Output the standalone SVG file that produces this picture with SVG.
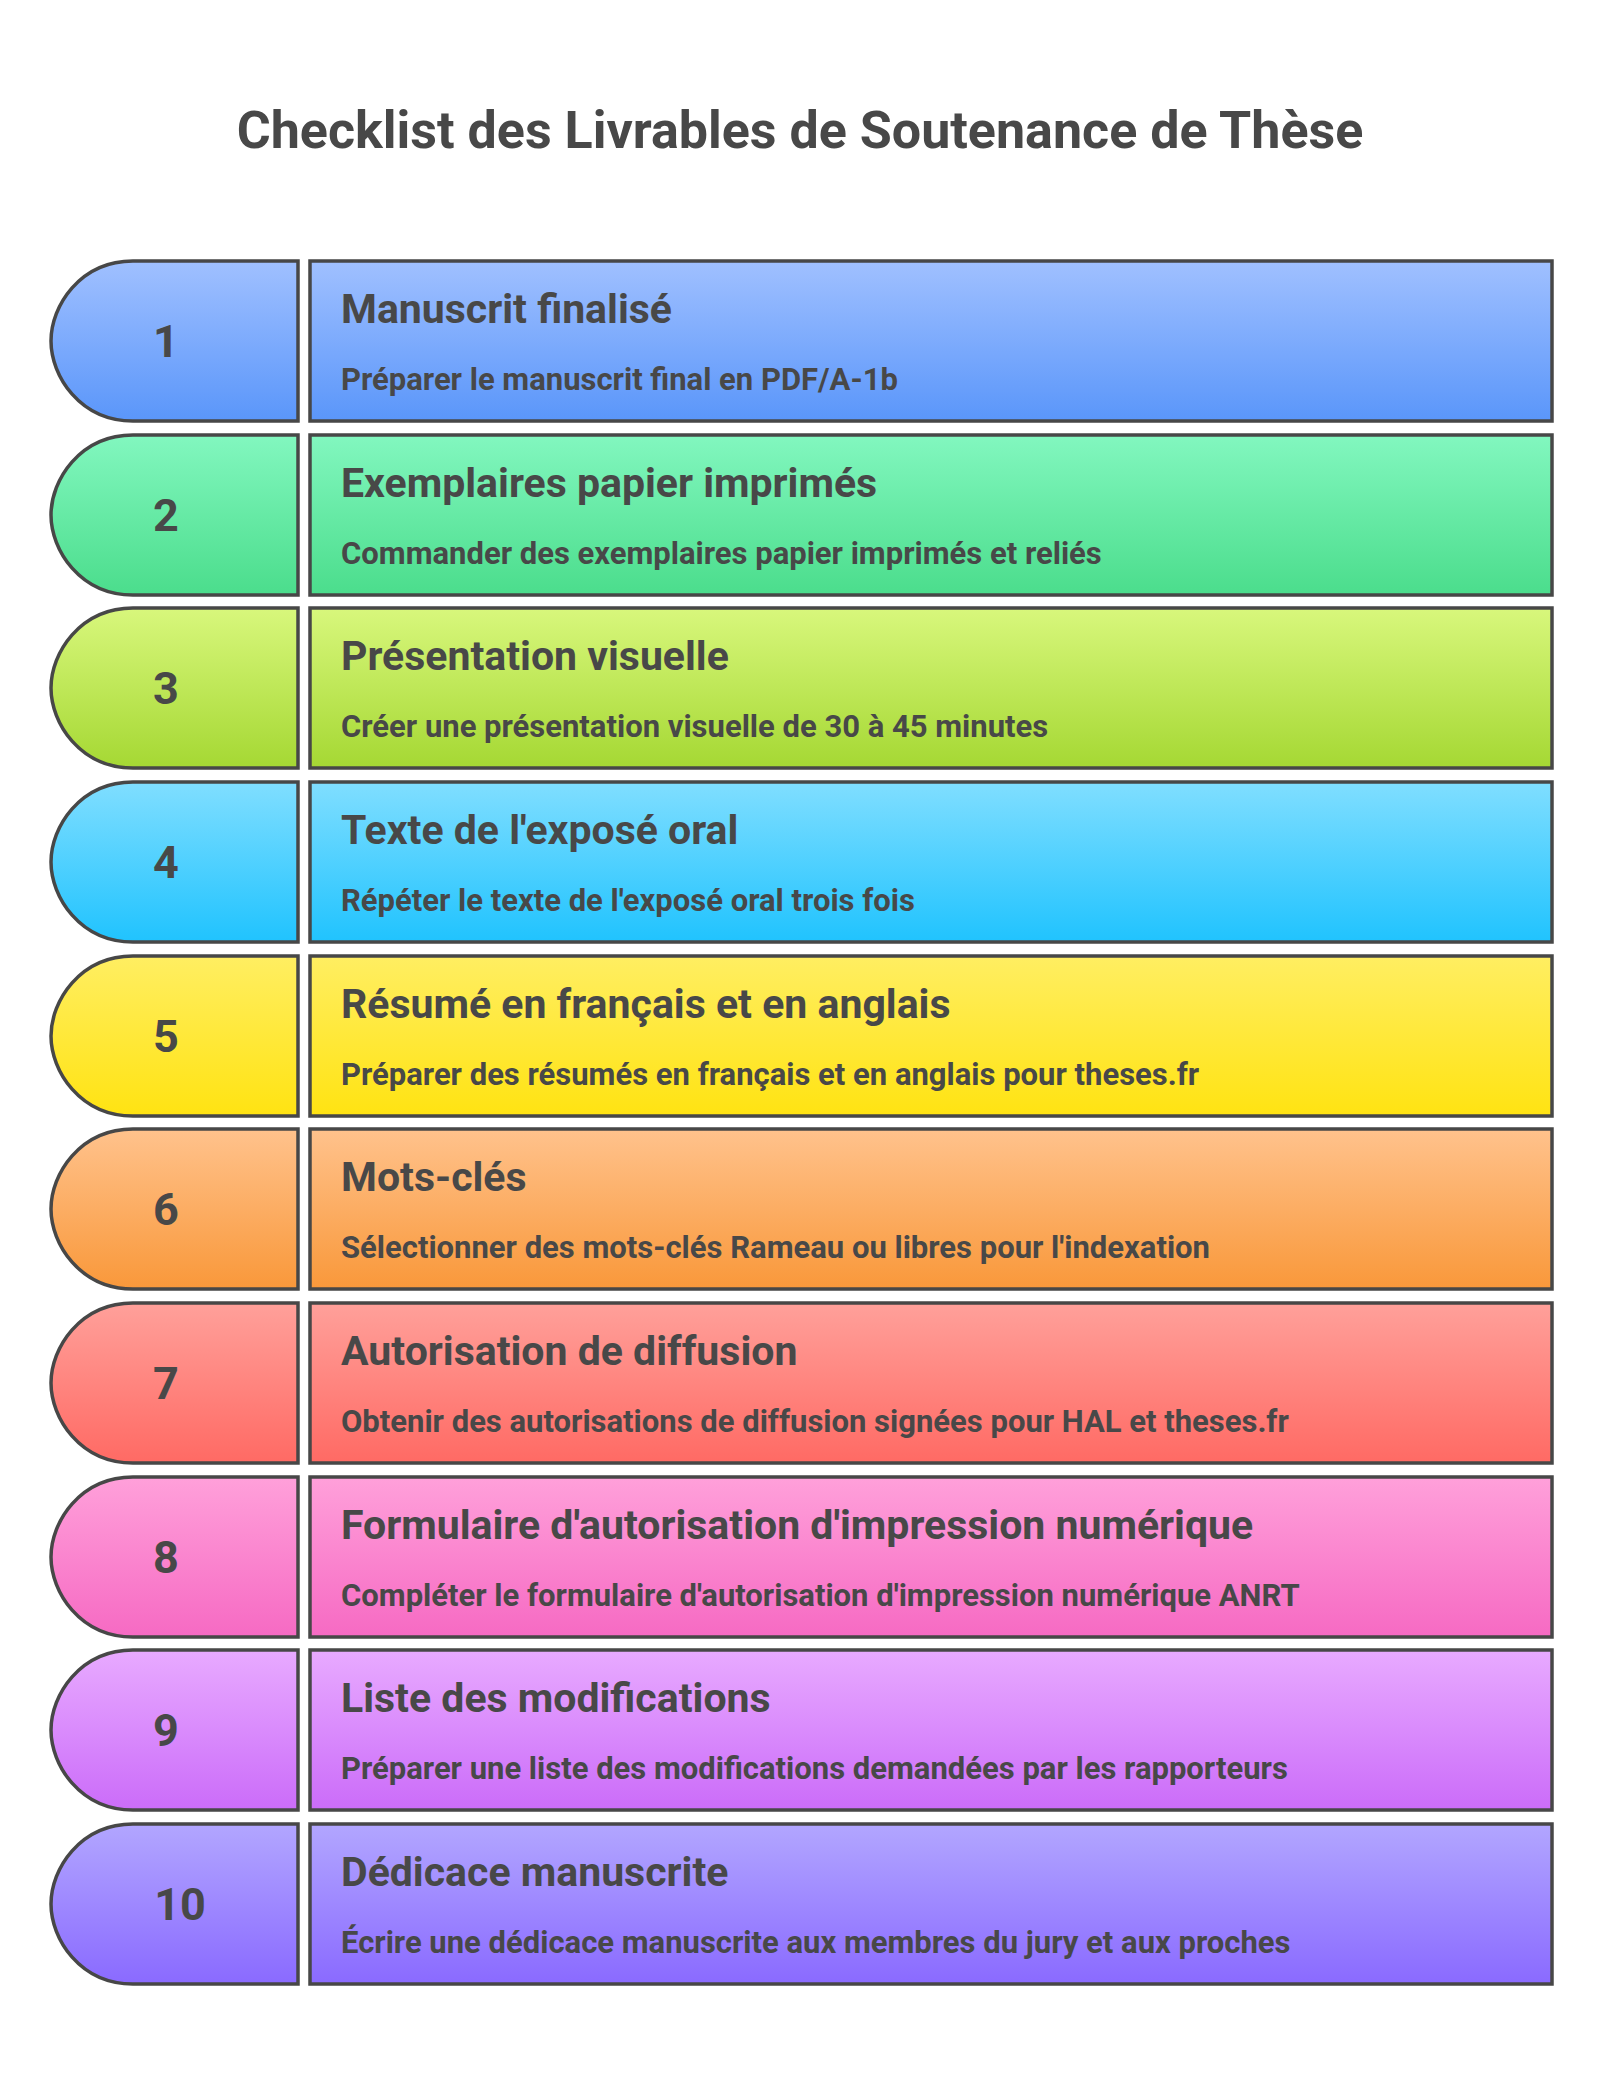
<svg xmlns="http://www.w3.org/2000/svg" width="1600" height="2083" viewBox="0 0 1600 2083">
<defs>
<linearGradient id="g1" x1="0" y1="0" x2="0" y2="1"><stop offset="0" stop-color="#A0C0FF"/><stop offset="1" stop-color="#5A96FA"/></linearGradient>
<linearGradient id="g2" x1="0" y1="0" x2="0" y2="1"><stop offset="0" stop-color="#82F7BF"/><stop offset="1" stop-color="#4BDD8C"/></linearGradient>
<linearGradient id="g3" x1="0" y1="0" x2="0" y2="1"><stop offset="0" stop-color="#D8F77C"/><stop offset="1" stop-color="#A5D833"/></linearGradient>
<linearGradient id="g4" x1="0" y1="0" x2="0" y2="1"><stop offset="0" stop-color="#80DEFF"/><stop offset="1" stop-color="#20C3FE"/></linearGradient>
<linearGradient id="g5" x1="0" y1="0" x2="0" y2="1"><stop offset="0" stop-color="#FFEE62"/><stop offset="1" stop-color="#FFE312"/></linearGradient>
<linearGradient id="g6" x1="0" y1="0" x2="0" y2="1"><stop offset="0" stop-color="#FFC28C"/><stop offset="1" stop-color="#F9983A"/></linearGradient>
<linearGradient id="g7" x1="0" y1="0" x2="0" y2="1"><stop offset="0" stop-color="#FFA09A"/><stop offset="1" stop-color="#FF6A64"/></linearGradient>
<linearGradient id="g8" x1="0" y1="0" x2="0" y2="1"><stop offset="0" stop-color="#FFA0DA"/><stop offset="1" stop-color="#F66AC3"/></linearGradient>
<linearGradient id="g9" x1="0" y1="0" x2="0" y2="1"><stop offset="0" stop-color="#E8AAFF"/><stop offset="1" stop-color="#CB6CF9"/></linearGradient>
<linearGradient id="g10" x1="0" y1="0" x2="0" y2="1"><stop offset="0" stop-color="#B2A6FF"/><stop offset="1" stop-color="#8A6AFF"/></linearGradient>
<path id="tab" d="M298,0 L133,0 C80,0 51,45 51,80 C51,115 80,160 133,160 L298,160 Z"/>
</defs>
<style>
.s{stroke:#474747;stroke-width:3.5}
.t{font-family:Roboto,"Liberation Sans",sans-serif;font-weight:bold;fill:#484848}
.n{font-size:45px;text-anchor:middle}
.h{font-size:41px}
.d{font-size:31px}
</style>
<rect width="1600" height="2083" fill="#fff"/>
<text class="t" x="800" y="148" font-size="52" text-anchor="middle">Checklist des Livrables de Soutenance de Thèse</text>
<g id="n1" transform="translate(0,261)"><use href="#tab" class="s" fill="url(#g1)"/><rect x="310" y="0" width="1242" height="160" class="s" fill="url(#g1)"/><text class="t n" x="166" y="96">1</text><text class="t h" x="341" y="62">Manuscrit finalisé</text><text class="t d" x="341" y="129">Préparer le manuscrit final en PDF/A-1b</text></g>
<g id="n2" transform="translate(0,435)"><use href="#tab" class="s" fill="url(#g2)"/><rect x="310" y="0" width="1242" height="160" class="s" fill="url(#g2)"/><text class="t n" x="166" y="96">2</text><text class="t h" x="341" y="62">Exemplaires papier imprimés</text><text class="t d" x="341" y="129">Commander des exemplaires papier imprimés et reliés</text></g>
<g id="n3" transform="translate(0,608)"><use href="#tab" class="s" fill="url(#g3)"/><rect x="310" y="0" width="1242" height="160" class="s" fill="url(#g3)"/><text class="t n" x="166" y="96">3</text><text class="t h" x="341" y="62">Présentation visuelle</text><text class="t d" x="341" y="129">Créer une présentation visuelle de 30 à 45 minutes</text></g>
<g id="n4" transform="translate(0,782)"><use href="#tab" class="s" fill="url(#g4)"/><rect x="310" y="0" width="1242" height="160" class="s" fill="url(#g4)"/><text class="t n" x="166" y="96">4</text><text class="t h" x="341" y="62">Texte de l'exposé oral</text><text class="t d" x="341" y="129">Répéter le texte de l'exposé oral trois fois</text></g>
<g id="n5" transform="translate(0,956)"><use href="#tab" class="s" fill="url(#g5)"/><rect x="310" y="0" width="1242" height="160" class="s" fill="url(#g5)"/><text class="t n" x="166" y="96">5</text><text class="t h" x="341" y="62">Résumé en français et en anglais</text><text class="t d" x="341" y="129">Préparer des résumés en français et en anglais pour theses.fr</text></g>
<g id="n6" transform="translate(0,1129)"><use href="#tab" class="s" fill="url(#g6)"/><rect x="310" y="0" width="1242" height="160" class="s" fill="url(#g6)"/><text class="t n" x="166" y="96">6</text><text class="t h" x="341" y="62">Mots-clés</text><text class="t d" x="341" y="129">Sélectionner des mots-clés Rameau ou libres pour l'indexation</text></g>
<g id="n7" transform="translate(0,1303)"><use href="#tab" class="s" fill="url(#g7)"/><rect x="310" y="0" width="1242" height="160" class="s" fill="url(#g7)"/><text class="t n" x="166" y="96">7</text><text class="t h" x="341" y="62">Autorisation de diffusion</text><text class="t d" x="341" y="129">Obtenir des autorisations de diffusion signées pour HAL et theses.fr</text></g>
<g id="n8" transform="translate(0,1477)"><use href="#tab" class="s" fill="url(#g8)"/><rect x="310" y="0" width="1242" height="160" class="s" fill="url(#g8)"/><text class="t n" x="166" y="96">8</text><text class="t h" x="341" y="62">Formulaire d'autorisation d'impression numérique</text><text class="t d" x="341" y="129">Compléter le formulaire d'autorisation d'impression numérique ANRT</text></g>
<g id="n9" transform="translate(0,1650)"><use href="#tab" class="s" fill="url(#g9)"/><rect x="310" y="0" width="1242" height="160" class="s" fill="url(#g9)"/><text class="t n" x="166" y="96">9</text><text class="t h" x="341" y="62">Liste des modifications</text><text class="t d" x="341" y="129">Préparer une liste des modifications demandées par les rapporteurs</text></g>
<g id="n10" transform="translate(0,1824)"><use href="#tab" class="s" fill="url(#g10)"/><rect x="310" y="0" width="1242" height="160" class="s" fill="url(#g10)"/><text class="t n" x="180" y="96">10</text><text class="t h" x="341" y="62">Dédicace manuscrite</text><text class="t d" x="341" y="129">Écrire une dédicace manuscrite aux membres du jury et aux proches</text></g>
<g id="connectors"/>
</svg>
